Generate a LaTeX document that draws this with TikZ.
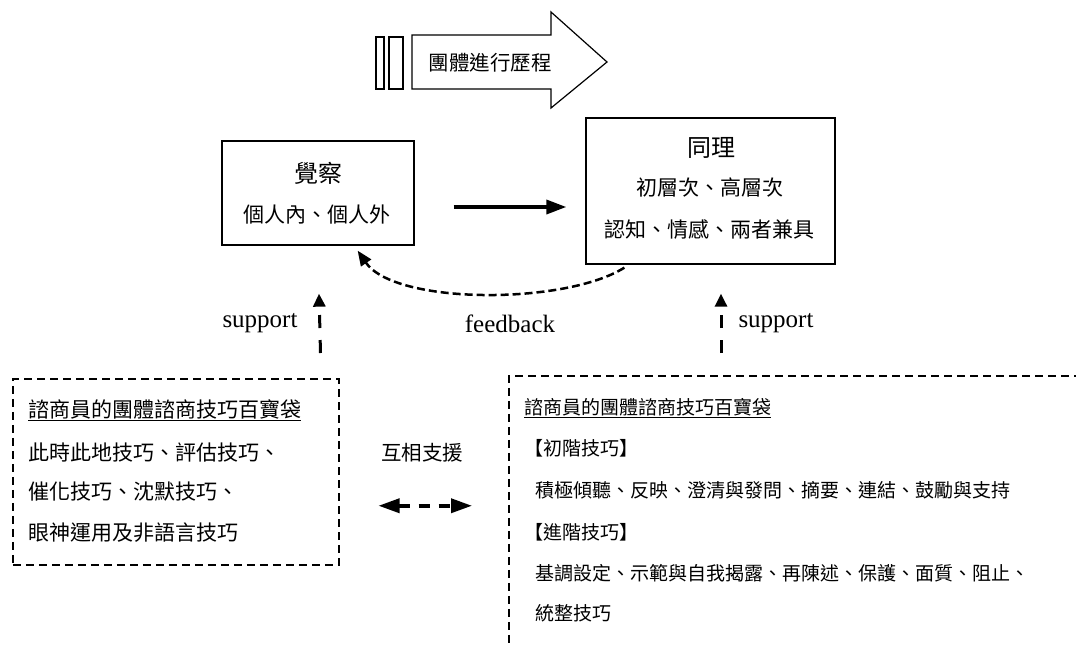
\documentclass[tikz,border=0pt]{standalone}
\usepackage{fontspec}
\setmainfont{Liberation Serif}
\newfontfamily\cjk{Noto Sans CJK TC}
\usetikzlibrary{arrows.meta,calc}
\begin{document}
\begin{tikzpicture}[x=1pt,y=-1pt,
  plainbox/.style={draw, line width=1.3pt, inner sep=0pt},
  dashbox/.style={draw, line width=1.5pt, dash pattern=on 8pt off 5pt, inner sep=0pt},
  cjkA/.style={font=\cjk\fontsize{21}{25}\selectfont, inner sep=0pt},
  cjkB/.style={font=\cjk\fontsize{19}{23}\selectfont, inner sep=0pt, anchor=west},
  cjkL/.style={font=\cjk\fontsize{21}{25}\selectfont, inner sep=0pt, anchor=west},
  cjkT/.style={font=\cjk\fontsize{24}{28}\selectfont, inner sep=0pt},
  lat/.style={font=\fontsize{25}{30}\selectfont, inner sep=0pt},
  suparrow/.style={line width=3pt, dash pattern=on 13pt off 12pt, -{Triangle[length=13pt,width=12pt]}},
  mainarrow/.style={line width=3.5pt, -{Triangle[length=20pt,width=14pt]}},
  fbarrow/.style={line width=2.5pt, dash pattern=on 8pt off 4pt, -{Triangle[length=15pt,width=12pt]}},
  mutual/.style={line width=3.5pt, dash pattern=on 11pt off 9pt, {Triangle[length=21pt,width=14pt]}-{Triangle[length=21pt,width=14pt]}},
  bigarrow/.style={draw, line width=1.2pt}
]
\useasboundingbox (0,0) rectangle (1076,645);
\clip (0,0) rectangle (1076,645);
\fill[white] (0,0) rectangle (1076,645);

% process arrow
\draw[bigarrow] (412,35) -- (551,35) -- (551,12) -- (607,62) -- (551,108) -- (551,89) -- (412,89) -- cycle;
\draw[bigarrow] (376,37) rectangle (384,89);
\draw[bigarrow] (389,37) rectangle (403,89);
\node[font=\cjk\fontsize{20.5}{24}\selectfont, inner sep=0pt] (proc) at (490,63) {團體進行歷程};

% awareness box
\node[plainbox, minimum width=192pt, minimum height=104pt] (aw) at (318,193) {};
\node[cjkT] (awt) at (318,173) {覺察};
\node[cjkA] (aws) at (317,215) {個人內、個人外};

% empathy box
\node[plainbox, minimum width=249pt, minimum height=146pt] (em) at (710.5,191) {};
\node[cjkT] (emt) at (711,148) {同理};
\node[cjkA] (ems1) at (710,188) {初層次、高層次};
\node[cjkA] (ems2) at (709,230) {認知、情感、兩者兼具};

% main arrow and feedback
\draw[mainarrow] ($(aw.east)+(39,14)$) -- ($(em.west)+(-19,16)$);
\draw[fbarrow] ($(em.south west)+(39,3)$) .. controls (565,305) and (395,305) .. ($(aw.south east)+(-57,5)$);
\node[lat] (fbl) at (510,324) {feedback};

% skill boxes
\node[dashbox, minimum width=326pt, minimum height=186pt, anchor=north west] (lbox) at (12,378) {};
\node[dashbox, minimum width=640pt, minimum height=320pt, anchor=north west] (rbox) at (508,375) {};

\node[cjkL] (l1) at (28,410) {\underline{諮商員的團體諮商技巧百寶袋}};
\node[cjkL] (l2) at (28,452) {此時此地技巧、評估技巧、};
\node[cjkL] (l3) at (28,492) {催化技巧、沈默技巧、};
\node[cjkL] (l4) at (28,533) {眼神運用及非語言技巧};

\node[cjkB] (r1) at (524,408) {\underline{諮商員的團體諮商技巧百寶袋}};
\node[cjkB] (r2) at (524,448) {【初階技巧】};
\node[cjkB] (r3) at (535,490) {積極傾聽、反映、澄清與發問、摘要、連結、鼓勵與支持};
\node[cjkB] (r4) at (524,532) {【進階技巧】};
\node[cjkB] (r5) at (535,573) {基調設定、示範與自我揭露、再陳述、保護、面質、阻止、};
\node[cjkB] (r6) at (535,613) {統整技巧};

% support arrows
\draw[suparrow] ($(lbox.north east)+(-19,-25)$) -- ($(aw.south)+(1,48)$);
\node[lat] (sl) at (260,323) {support};
\draw[suparrow] ($(rbox.north west)+(213,-22)$) -- ($(em.south)+(10.5,29)$);
\node[lat] (sr) at (776,323) {support};

% mutual support
\node[font=\cjk\fontsize{20.5}{24}\selectfont, inner sep=0pt] (mut) at (422,453) {互相支援};
\draw[mutual] ($(lbox.east)+(39,34)$) -- ($(rbox.west)+(-36,-30)$);
\end{tikzpicture}
\end{document}
